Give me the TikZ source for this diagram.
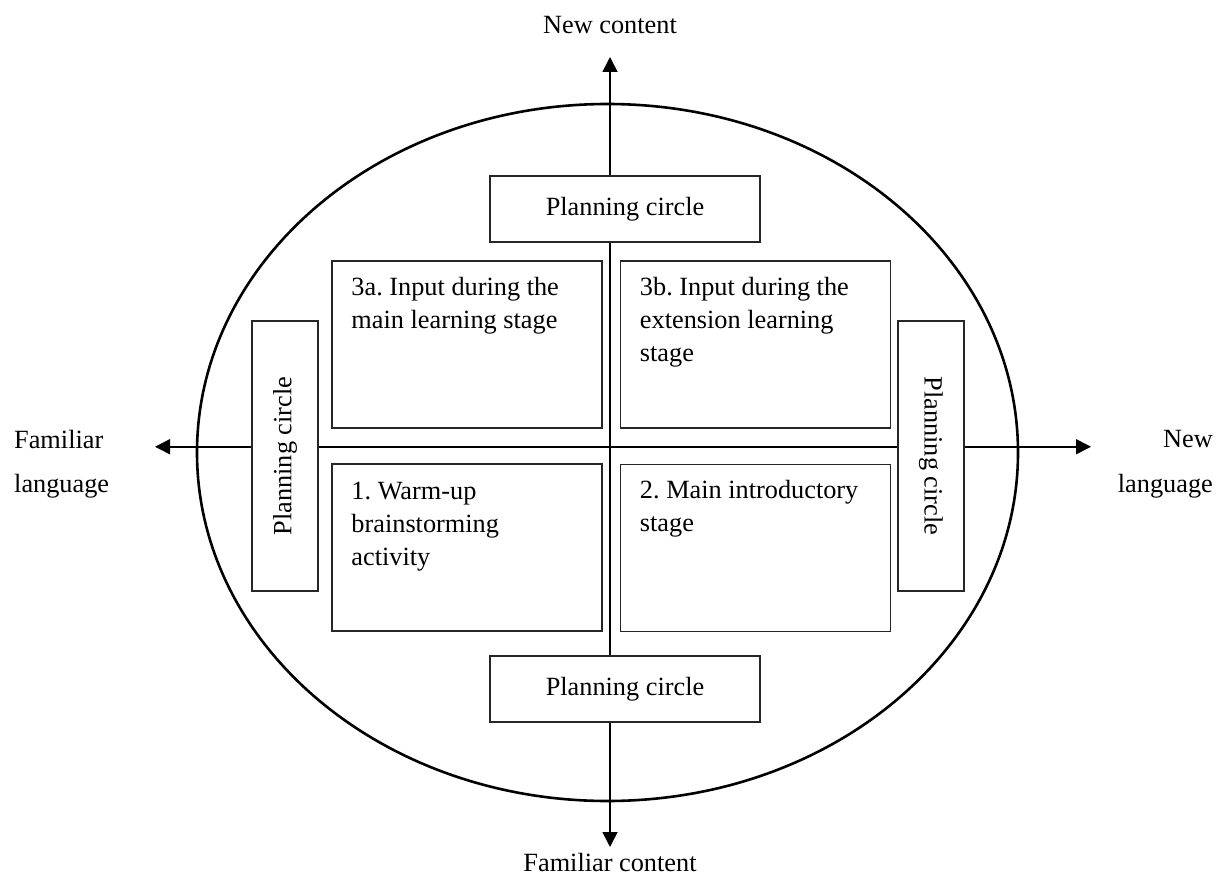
\documentclass[tikz,border=0pt]{standalone}
\usepackage{fontspec}
\setmainfont{Liberation Serif}
\frenchspacing
\usetikzlibrary{arrows.meta,calc}
\begin{document}
\begin{tikzpicture}[x=1pt,y=-1pt,
  every node/.style={font=\fontsize{26.3}{33}\selectfont},
  frame/.style={draw=black!85, line width=1.5pt, fill=white, inner sep=0pt},
  plan/.style={frame, minimum width=270pt, minimum height=66pt},
  planv/.style={frame, minimum width=66pt, minimum height=270pt},
  stage/.style={frame, minimum width=270pt, minimum height=167pt},
  stagetext/.style={inner sep=0pt, anchor=base west},
  axisline/.style={line width=1.5pt},
  axis/.style={axisline, -{Triangle[length=15pt,width=15pt]}},
  caption/.style={inner sep=0pt}]

\useasboundingbox (0,0) rectangle (1218,877);

% outer ellipse
\draw[line width=2.6pt] (607.5,452.5) ellipse [x radius=410.5pt, y radius=348.5pt];

% axis end points
\coordinate (ttip) at (610,57);
\coordinate (btip) at (610,847);
\coordinate (ltip) at (155,446.75);
\coordinate (rtip) at (1091,446.75);

% planning circle boxes
\node[plan] (ptop) at (625,209) {Planning circle};
\node[plan] (pbot) at (625,689) {Planning circle};
\node[planv] (pleft) at (285,456) {\rotatebox{90}{Planning circle}};
\node[planv] (pright) at (931,456) {\rotatebox{-90}{Planning circle}};

% stage boxes
\node[stage] (s3a) at (467,344.5) {};
\node[stage] (s3b) at (755.5,344.5) {};
\node[stage] (s1) at (467,547.5) {};
\node[stage] (s2) at (755.5,548) {};

\node[stagetext] (t3a) at ($(s3a.north west)+(20,35)$)
  {\parbox[t]{250pt}{\raggedright 3a. Input during the\\main learning stage}};
\node[stagetext] (t3b) at ($(s3b.north west)+(20,35)$)
  {\parbox[t]{250pt}{\raggedright 3b. Input during the\\extension learning\\stage}};
\node[stagetext] (t1) at ($(s1.north west)+(20,36)$)
  {\parbox[t]{250pt}{\raggedright 1. Warm-up\\brainstorming\\activity}};
\node[stagetext] (t2) at ($(s2.north west)+(20,35)$)
  {\parbox[t]{250pt}{\raggedright 2. Main introductory\\stage}};

% axes
\draw[axis] (ptop.north -| ttip) -- (ttip);
\draw[axisline] (ptop.south -| ttip) -- (pbot.north -| ttip);
\draw[axis] (pbot.south -| btip) -- (btip);
\draw[axis] (pleft.west |- ltip) -- (ltip);
\draw[axisline] (pleft.east |- ltip) -- (pright.west |- ltip);
\draw[axis] (pright.east |- rtip) -- (rtip);

% axis captions
\node[caption, anchor=base] (newc) at (610,34) {New content};
\node[caption, anchor=base] (famc) at (610,871) {Familiar content};
\node[caption, anchor=base west] (faml) at (14,448)
  {\parbox[t]{100pt}{\fontsize{26.3}{44}\selectfont\raggedright Familiar\\language}};
\node[caption, anchor=base east] (newl) at (1213,447)
  {\parbox[t]{100pt}{\fontsize{26.3}{45}\selectfont\raggedleft New\\language}};
\end{tikzpicture}
\end{document}
